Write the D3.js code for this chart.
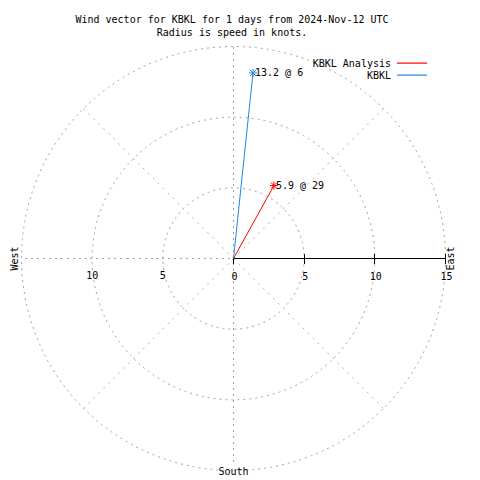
<!DOCTYPE html>
<html><head><meta charset="utf-8">
<script src="https://cdn.jsdelivr.net/npm/d3@7"></script>
<style>body{margin:0;background:#fff}svg{display:block}text{font-family:"DejaVu Sans Mono",monospace;font-size:10px;fill:#000}</style>
</head><body><svg id="c" width="480" height="480"></svg>
<script>
const titleLines = ["Wind vector for KBKL for 1 days from 2024-Nov-12 UTC", "Radius is speed in knots."];
const seriesNames = ["KBKL Analysis", "KBKL"];
const seriesColors = ["#ff0000", "#1f86e8"];
const speeds = [5.9, 13.2];
const directions = [29, 6];
const ringValues = [5, 10, 15];
const tickValues = [0, 5, 10, 15];
const leftTickValues = [10, 5];
const compassLabels = ["West", "East", "South"];

const svg = d3.select("#c");
const cx = 233.5, cy = 258.5;
const r = d3.scaleLinear().domain([0, 15]).range([0, 212]);
const R = r(15);
const grid = "#a0a0a0", dash = "2,4";
const pt = (v, deg) => [cx + r(v) * Math.sin(deg * Math.PI / 180), cy - r(v) * Math.cos(deg * Math.PI / 180)];

// title
svg.selectAll("text.title").data(titleLines).join("text")
  .attr("x", 232).attr("y", (d, i) => 23 + i * 13).attr("text-anchor", "middle").text(d => d);

// rings
svg.selectAll("circle.ring").data(ringValues).join("circle")
  .attr("cx", cx).attr("cy", cy).attr("r", d => r(d))
  .attr("fill", "none").attr("stroke", grid).attr("stroke-dasharray", dash);

// radial grid lines
[45, 135, 225, 315].forEach(a => {
  const p = pt(15, a);
  svg.append("line").attr("x1", cx).attr("y1", cy).attr("x2", p[0]).attr("y2", p[1])
    .attr("stroke", "#b4b4b4").attr("stroke-dasharray", "2,5");
});
svg.append("line").attr("x1", cx).attr("y1", cy - R).attr("x2", cx).attr("y2", cy + R - 6)
  .attr("stroke", grid).attr("stroke-dasharray", dash).attr("shape-rendering", "crispEdges");
svg.append("line").attr("x1", cx - R + 3).attr("y1", cy).attr("x2", cx).attr("y2", cy)
  .attr("stroke", grid).attr("stroke-dasharray", dash).attr("shape-rendering", "crispEdges");

// east axis
svg.append("line").attr("x1", cx).attr("y1", cy).attr("x2", cx + R).attr("y2", cy).attr("stroke", "#000").attr("shape-rendering", "crispEdges");
svg.selectAll("line.tick").data(tickValues).join("line")
  .attr("x1", d => cx + r(d)).attr("x2", d => cx + r(d))
  .attr("y1", d => d === 0 ? cy : cy - 5).attr("y2", cy + 5).attr("stroke", "#000").attr("shape-rendering", "crispEdges");

// tick labels
svg.selectAll("text.lt").data(leftTickValues).join("text")
  .attr("x", d => cx - r(d)).attr("y", 279).attr("text-anchor", "middle").text(d => d);
svg.selectAll("text.rt").data(tickValues).join("text")
  .attr("x", d => cx + r(d) + 1).attr("y", 280).attr("text-anchor", "middle").text(d => d);

// compass labels
svg.append("text").attr("transform", `translate(18,${cy}) rotate(-90)`).attr("text-anchor", "middle").text(compassLabels[0]);
svg.append("text").attr("transform", `translate(${cx + R + 8},${cy}) rotate(-90)`).attr("text-anchor", "middle").text(compassLabels[1]);
svg.append("text").attr("x", cx).attr("y", 475).attr("text-anchor", "middle").text(compassLabels[2]);

// vectors
speeds.forEach((s, i) => {
  const p = pt(s, directions[i]);
  const col = seriesColors[i];
  svg.append("line").attr("x1", cx).attr("y1", cy).attr("x2", p[0]).attr("y2", p[1]).attr("stroke", col);
  const k = 4;
  [[-k, 0, k, 0], [0, -k, 0, k], [-3, -3, 3, 3], [-3, 3, 3, -3]].forEach(s2 => {
    svg.append("line").attr("x1", p[0] + s2[0]).attr("y1", p[1] + s2[1]).attr("x2", p[0] + s2[2]).attr("y2", p[1] + s2[3]).attr("stroke", col);
  });
  svg.append("text").attr("x", p[0] + 2).attr("y", p[1] + 3).text(`${s} @ ${directions[i]}`);
});

// legend
seriesNames.forEach((n, i) => {
  const y = 63 + i * 12;
  svg.append("text").attr("x", 391).attr("y", y + 4).attr("text-anchor", "end").text(n);
  svg.append("rect").attr("x", 397).attr("width", 30).attr("y", y - 0.5).attr("height", 1.2).attr("fill", seriesColors[i]);
});
</script></body></html>
